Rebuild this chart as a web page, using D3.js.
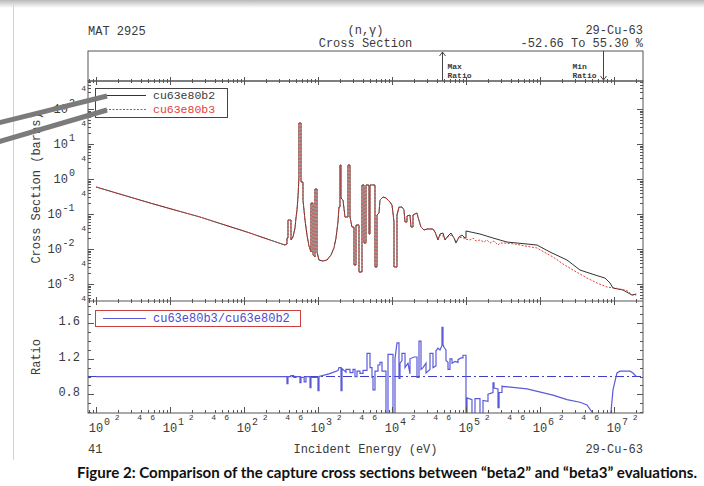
<!DOCTYPE html>
<html>
<head>
<meta charset="utf-8">
<script src="https://cdn.jsdelivr.net/npm/d3@7"></script>
<style>
  html, body { margin: 0; padding: 0; background: #fff; }
  svg { display: block; }
</style>
</head>
<body>
<svg id="chart" width="704" height="486"></svg>
<script>
// ---- Cu-63 (n,gamma) cross sections, eV / barns ----
// Resolved-resonance range: both evaluations coincide at this scale
const resolvedEnergy = [1, 5.37, 25.4, 120.5, 224.6, 358.2, 381.2, 381.2, 393.3, 393.3, 431.7, 431.7, 459.4, 488.9, 504.4, 520.3, 536.7, 553.6, 553.6, 589.3, 589.3, 627.1, 627.1, 667.4, 710.3, 755.7, 804.3, 804.3, 855.9, 855.9, 910.9, 910.9, 969.4, 969.4, 1031.6, 1168, 1323, 1499, 1645, 1751, 1863, 1922, 1983, 1983, 2046, 2046, 2177, 2317, 2544, 2544, 2707, 2707, 2881, 3066, 3066, 3263, 3263, 3582, 3582, 3932, 3932, 4184, 4184, 4453, 4453, 4889, 4889, 5044, 5044, 5894, 5894, 6271, 6271, 6673, 6884, 7557, 8297, 9397, 10000, 10316, 10643, 10643, 11685, 11685, 12433, 13650, 14530, 14990, 15950, 15950, 17510, 18070, 19220, 19220, 21770, 22460, 24660, 27070, 29720, 35820, 38120];
const resolvedSigma = [0.591, 0.206, 0.0821, 0.0286, 0.0181, 0.0130, 0.0139, 0.0206, 0.0206, 0.0674, 0.0674, 0.0181, 0.0220, 0.0398, 0.0769, 0.130, 0.306, 1.14, 39.8, 39.8, 0.821, 0.821, 0.251, 0.0674, 0.0251, 0.0122, 0.00821, 0.206, 0.206, 0.00674, 0.00591, 0.518, 0.518, 0.00821, 0.00485, 0.00454, 0.00485, 0.00674, 0.0107, 0.0206, 0.0591, 0.158, 0.158, 2.51, 2.51, 0.286, 0.251, 0.0821, 0.0821, 2.51, 2.51, 0.0821, 0.0425, 0.0425, 0.00349, 0.00349, 0.0485, 0.0485, 0.00220, 0.00220, 0.674, 0.674, 0.0148, 0.0148, 0.674, 0.674, 0.0268, 0.0268, 0.674, 0.674, 0.00306, 0.00306, 0.0936, 0.107, 0.251, 0.306, 0.286, 0.220, 0.181, 0.107, 0.0591, 0.00306, 0.00306, 0.0936, 0.158, 0.158, 0.130, 0.0591, 0.0591, 0.0877, 0.0936, 0.0425, 0.0425, 0.0936, 0.107, 0.0821, 0.0425, 0.0349, 0.0373, 0.0373, 0.0306];

// Unresolved + fast range, evaluation "beta2"
const b2FastEnergy = [41840, 44530, 48890, 52030, 57130, 62710, 68840, 73270, 80440, 88300, 96940, 100000, 100000, 154600, 231700, 358200, 910900, 1.365e6, 2.317e6, 3.472e6, 5.536e6, 7.557e6, 8.833e6, 9.694e6, 1.323e7, 1.751e7, 2.0e7];
const b2FastSigma = [0.0181, 0.0268, 0.0286, 0.0181, 0.0235, 0.0286, 0.0206, 0.0148, 0.0220, 0.0251, 0.0206, 0.0206, 0.0327, 0.0268, 0.0206, 0.0158, 0.0130, 0.00821, 0.00485, 0.00251, 0.00181, 0.00148, 0.00107, 0.000769, 0.000674, 0.000485, 0.000518];

// Unresolved + fast range, evaluation "beta3"
const b3FastEnergy = [41840, 44530, 48890, 52030, 57130, 62710, 68840, 73270, 80440, 88300, 96940, 113300, 124400, 136500, 154600, 175100, 192200, 211000, 239000, 270700, 288100, 336500, 459400, 627100, 910900, 1.133e6, 1.499e6, 2.046e6, 2.792e6, 3.472e6, 4.316e6, 5.893e6, 8.043e6, 1.098e7, 1.499e7, 1.751e7, 2.0e7];
const b3FastSigma = [0.0193, 0.0251, 0.0235, 0.0193, 0.0220, 0.0251, 0.0206, 0.0169, 0.0206, 0.0220, 0.0193, 0.0181, 0.0206, 0.0169, 0.0181, 0.0158, 0.0181, 0.0148, 0.0169, 0.0130, 0.0148, 0.0148, 0.0139, 0.0122, 0.0107, 0.00821, 0.00591, 0.00373, 0.00251, 0.00193, 0.00148, 0.00107, 0.000821, 0.00075, 0.00065, 0.000485, 0.000485];

// Ratio beta3 / beta2
const ratioEnergy = [1, 381, 381, 393, 393, 430, 430, 470, 470, 504, 504, 571, 571, 589, 589, 650, 650, 688, 688, 780, 780, 804, 804, 1000, 1000, 1032, 1032, 1408, 1863, 1922, 2046, 2046, 2110, 2110, 2390, 2390, 2707, 2707, 2972, 2972, 3162, 3162, 3365, 3365, 3695, 3695, 4057, 4057, 4595, 4595, 5044, 5044, 5367, 5367, 5537, 5537, 5894, 5894, 6470, 6470, 6884, 6884, 7328, 7328, 8297, 8297, 8830, 8830, 10316, 10316, 10980, 10980, 11690, 12430, 12430, 12830, 12830, 13650, 13650, 14990, 14990, 16450, 17510, 17510, 19830, 21770, 21770, 23170, 23170, 24660, 24660, 26240, 28810, 28810, 32630, 32630, 35820, 35820, 39320, 39320, 41840, 44530, 47390, 47390, 48890, 48890, 50440, 53670, 53670, 57130, 57130, 60790, 60790, 64700, 64700, 71030, 77980, 77980, 85590, 91090, 91090, 100000, 100000, 103200, 103200, 120500, 120500, 132300, 132300, 154600, 154600, 169700, 169700, 198300, 198300, 231700, 231700, 239000, 239000, 270700, 270700, 280000, 280000, 306600, 306600, 667300, 1.499e6, 2.317e6, 3.472e6, 4.316e6, 5.044e6, 5.536e6, 7.1e6, 8.833e6, 9.694e6, 1.098e7, 1.205e7, 1.645e7, 1.806e7, 2.0e7];
const ratioValue = [1.0, 1.0, 0.92, 0.92, 1.0, 1.0, 1.01, 1.01, 0.99, 0.99, 1.0, 1.0, 0.93, 0.93, 0.99, 0.99, 0.94, 0.94, 1.0, 1.0, 0.876, 0.876, 0.99, 0.99, 0.84, 0.84, 1.0, 1.03, 1.068, 1.10, 1.10, 0.842, 0.842, 1.09, 1.05, 1.08, 1.08, 1.045, 1.045, 1.08, 1.08, 1.0, 1.0, 1.06, 1.06, 1.035, 1.035, 1.07, 1.07, 1.26, 1.26, 1.10, 1.10, 0.99, 0.99, 0.85, 0.85, 1.06, 1.06, 1.13, 1.13, 1.16, 1.16, 1.06, 1.06, 0.50, 0.50, 1.25, 1.25, 0.50, 0.50, 1.20, 1.38, 1.38, 0.98, 0.98, 1.15, 1.18, 1.26, 1.26, 1.10, 1.15, 1.03, 1.20, 1.22, 1.22, 0.99, 0.99, 1.40, 1.40, 1.08, 1.10, 1.15, 1.04, 1.08, 1.26, 1.26, 1.10, 1.12, 1.29, 1.32, 1.30, 1.35, 1.553, 1.553, 1.36, 1.33, 1.30, 1.18, 1.16, 1.08, 1.08, 1.20, 1.20, 1.15, 1.17, 1.16, 1.19, 1.21, 1.21, 1.24, 1.24, 0.55, 0.55, 0.76, 0.74, 0.50, 0.50, 0.75, 0.75, 0.50, 0.50, 0.73, 0.72, 0.80, 0.82, 0.93, 0.93, 0.87, 0.86, 0.65, 0.65, 0.82, 0.82, 0.89, 0.86, 0.79, 0.74, 0.71, 0.68, 0.60, 0.52, 0.4734, 0.48, 0.85, 1.04, 1.06, 1.06, 1.04, 1.00];

const seriesNames = ["cu63e80b2", "cu63e80b3"];
const ratioName = "cu63e80b3/cu63e80b2";
const material = "MAT 2925";
const reaction = "(n,\u03b3)";
const quantity = "Cross Section";
const nuclide = "29-Cu-63";
const pageNumber = "41";
const xTitle = "Incident Energy (eV)";
const yTitle = "Cross Section (barns)";
const ratioTitle = "Ratio";
const xDecades = [0, 1, 2, 3, 4, 5, 6, 7];
const xMinorLabels = [2, 4, 6];
const yDecades = [-3, -2, -1, 0, 1, 2];
const yMinorLabel = 4;
const ratioTickLabels = [0.8, 1.2, 1.6];
const caption = "Figure 2: Comparison of the capture cross sections between \u201cbeta2\u201d and \u201cbeta3\u201d evaluations.";

// ---- layout ----
const L = 88, R = 643, HEAD_TOP = 51, T0 = 81, T1 = 301, B1 = 413;
const MONO = "'Liberation Mono', 'DejaVu Sans Mono', monospace";
const INK = "#3a3a3a";

const svg = d3.select("#chart");

const x = d3.scaleLog().domain([0.78, 2.466e7]).range([L, R]);
const yXs = d3.scaleLog().domain([3.27e-4, 631]).range([T1, T0]);
const yR = d3.scaleLinear().domain([0.589, 1.851]).range([B1, T1]);

const zip = (ex, ys) => ex.map((e, i) => ({ e, v: ys[i] }));
const b2 = zip(resolvedEnergy.concat(b2FastEnergy), resolvedSigma.concat(b2FastSigma));
const b3 = zip(resolvedEnergy.concat(b3FastEnergy), resolvedSigma.concat(b3FastSigma));
const ratio = zip(ratioEnergy, ratioValue);

// page decoration: shaded top edge and left rule
const defs = svg.append("defs");
const grad = defs.append("linearGradient").attr("id", "topShade").attr("x1", 0).attr("x2", 0).attr("y1", 0).attr("y2", 1);
grad.append("stop").attr("offset", "0%").attr("stop-color", "#b9b9b9");
grad.append("stop").attr("offset", "100%").attr("stop-color", "#ffffff");
svg.append("rect").attr("x", 0).attr("y", 0).attr("width", 704).attr("height", 8).attr("fill", "url(#topShade)");
svg.append("line").attr("x1", 13.5).attr("x2", 13.5).attr("y1", 5).attr("y2", 460)
  .attr("stroke", "#d2d2d2").attr("stroke-width", 1);

// clip regions
defs.append("clipPath").attr("id", "clipTop").append("rect")
  .attr("x", L).attr("y", T0).attr("width", R - L).attr("height", T1 - T0);
defs.append("clipPath").attr("id", "clipBot").append("rect")
  .attr("x", L).attr("y", T1).attr("width", R - L).attr("height", B1 - T1);

// ---- header ----
const txt = (s, px, py, opts = {}) => svg.append("text")
  .attr("x", px).attr("y", py).text(s)
  .attr("font-family", opts.family || MONO)
  .attr("font-size", opts.size || 12)
  .attr("font-weight", opts.weight || "normal")
  .attr("fill", opts.fill || INK)
  .attr("text-anchor", opts.anchor || "start");

// "10" with a raised exponent, drawn as one text element
const pow10 = (d, px, py, expDx) => {
  const t = svg.append("text").attr("x", px).attr("y", py)
    .attr("font-family", MONO).attr("font-size", 12).attr("fill", INK);
  t.append("tspan").text("10");
  t.append("tspan").attr("dx", expDx).attr("dy", -7)
    .attr("font-size", 10).text(String(d));
  return t;
};

const rMin = d3.min(ratioValue), rMax = d3.max(ratioValue);
const pct = v => ((v - 1) * 100).toFixed(2);
txt(material, L, 35);
txt(reaction, (L + R) / 2, 34, { anchor: "middle" });
txt(quantity, (L + R) / 2, 47, { anchor: "middle" });
txt(nuclide, R, 34, { anchor: "end" });
txt(`${pct(rMin)} To ${pct(rMax)} %`, R, 47, { anchor: "end" });

// header box
svg.append("rect").attr("x", L).attr("y", HEAD_TOP).attr("width", R - L).attr("height", T0 - HEAD_TOP)
  .attr("fill", "none").attr("stroke", "#555").attr("stroke-width", 1);

// Max / Min ratio markers
const eMax = ratioEnergy[ratioValue.indexOf(rMax)];
const eMin = ratioEnergy[ratioValue.indexOf(rMin)];
const xMax = Math.round(x(eMax)) + 0.5, xMin = Math.round(x(eMin)) + 0.5;
const mark = svg.append("g").attr("stroke", "#444").attr("fill", "none").attr("stroke-width", 1);
mark.append("line").attr("x1", xMax).attr("x2", xMax).attr("y1", T0).attr("y2", HEAD_TOP + 1);
mark.append("path").attr("d", `M${xMax - 3},${HEAD_TOP + 5}L${xMax},${HEAD_TOP + 1}L${xMax + 3},${HEAD_TOP + 5}`);
mark.append("line").attr("x1", xMin).attr("x2", xMin).attr("y1", HEAD_TOP).attr("y2", T0 - 1);
mark.append("path").attr("d", `M${xMin - 3},${T0 - 5}L${xMin},${T0 - 1}L${xMin + 3},${T0 - 5}`);
txt("Max", xMax + 5, 69, { size: 8, weight: "bold" });
txt("Ratio", xMax + 5, 78, { size: 8, weight: "bold" });
txt("Min", xMin - 31, 69, { size: 8, weight: "bold" });
txt("Ratio", xMin - 31, 78, { size: 8, weight: "bold" });

// ---- data ----
const lineXs = d3.line().x(d => x(d.e)).y(d => yXs(d.v));
const lineR = d3.line().x(d => x(d.e)).y(d => yR(d.v));

const xsPanel = svg.append("g").attr("clip-path", "url(#clipTop)");
xsPanel.append("path").datum(b2).attr("d", lineXs)
  .attr("fill", "none").attr("stroke", "#333").attr("stroke-width", 1);
xsPanel.append("path").datum(b3).attr("d", lineXs)
  .attr("fill", "none").attr("stroke", "#e3403a").attr("stroke-width", 1)
  .attr("stroke-dasharray", "2,1.5");

const ratioPanel = svg.append("g").attr("clip-path", "url(#clipBot)");
ratioPanel.append("line").attr("x1", L).attr("x2", R).attr("y1", yR(1)).attr("y2", yR(1))
  .attr("stroke", "#3b3bc4").attr("stroke-width", 1).attr("stroke-dasharray", "9,3,2,3");
ratioPanel.append("path").datum(ratio).attr("d", lineR)
  .attr("fill", "none").attr("stroke", "#5a5ad9").attr("stroke-width", 1.2);

// ---- frames ----
svg.append("rect").attr("x", L).attr("y", T0).attr("width", R - L).attr("height", B1 - T0)
  .attr("fill", "none").attr("stroke", "#555").attr("stroke-width", 1);
svg.append("line").attr("x1", L).attr("x2", R).attr("y1", T1).attr("y2", T1)
  .attr("stroke", "#555").attr("stroke-width", 1);

// ---- ticks ----
const ticks = svg.append("g").attr("stroke", "#555").attr("stroke-width", 1);
const xTickVals = [];
for (let d = -1; d <= 7; d++) for (let m = 1; m <= 9; m++) {
  const v = m * Math.pow(10, d);
  if (v >= x.domain()[0] && v <= x.domain()[1]) xTickVals.push({ v, major: m === 1, m, d });
}
xTickVals.forEach(t => {
  const px = Math.round(x(t.v)) + 0.5;
  const a = t.major ? 4 : 2;
  [T0, T1].forEach(yy => ticks.append("line").attr("x1", px).attr("x2", px).attr("y1", yy - a).attr("y2", yy + a));
  ticks.append("line").attr("x1", px).attr("x2", px).attr("y1", B1).attr("y2", B1 - (t.major ? 6 : 3));
});

const yTickVals = [];
for (let d = -4; d <= 2; d++) for (let m = 1; m <= 9; m++) {
  const v = m * Math.pow(10, d);
  if (v >= yXs.domain()[0] && v <= yXs.domain()[1]) yTickVals.push({ v, major: m === 1, m, d });
}
yTickVals.forEach(t => {
  const py = Math.round(yXs(t.v)) + 0.5;
  const len = t.major ? 6 : 3;
  ticks.append("line").attr("x1", L).attr("x2", L + len).attr("y1", py).attr("y2", py);
  ticks.append("line").attr("x1", R).attr("x2", R - len).attr("y1", py).attr("y2", py);
});

d3.range(6, 19).map(i => i / 10).forEach(v => {
  if (v < yR.domain()[0] || v > yR.domain()[1]) return;
  const py = Math.round(yR(v)) + 0.5;
  const major = ratioTickLabels.some(l => Math.abs(l - v) < 1e-9);
  const len = major ? 6 : 3;
  ticks.append("line").attr("x1", L).attr("x2", L + len).attr("y1", py).attr("y2", py);
  ticks.append("line").attr("x1", R).attr("x2", R - len).attr("y1", py).attr("y2", py);
});

// ---- tick labels ----
xDecades.forEach(d => {
  pow10(d, x(Math.pow(10, d)) - 7.2, 432, 0.8);
});
xTickVals.filter(t => xMinorLabels.includes(t.m)).forEach(t => {
  txt(String(t.m), x(t.v) - 1, 420, { size: 8, anchor: "middle" });
});

yDecades.forEach(d => {
  // negative exponents are wider, so the mantissa starts further left
  pow10(d, d < 0 ? 47.6 : 53.6, yXs(Math.pow(10, d)) + 4, d < 0 ? 0.5 : 1);
});
yTickVals.filter(t => t.m === yMinorLabel).forEach(t => {
  txt(String(yMinorLabel), 86, yXs(t.v) + 3, { size: 8, anchor: "end" });
});

ratioTickLabels.forEach(v => {
  txt(v.toFixed(1), 80, yR(v) + 2, { anchor: "end" });
});

// ---- axis titles and footer ----
svg.append("text").attr("transform", "translate(40,188) rotate(-90)")
  .attr("text-anchor", "middle").attr("font-family", MONO).attr("font-size", 12)
  .attr("fill", INK).text(yTitle);
svg.append("text").attr("transform", "translate(40,357) rotate(-90)")
  .attr("text-anchor", "middle").attr("font-family", MONO).attr("font-size", 12)
  .attr("fill", INK).text(ratioTitle);
txt(pageNumber, L, 453);
txt(xTitle, (L + R) / 2, 453, { anchor: "middle" });
txt(nuclide, R, 453, { anchor: "end" });

// ---- legends ----
svg.append("rect").attr("x", 95.5).attr("y", 88.5).attr("width", 132).attr("height", 29)
  .attr("fill", "#fff").attr("stroke", "#444").attr("stroke-width", 1);
svg.append("line").attr("x1", 102).attr("x2", 146).attr("y1", 95.5).attr("y2", 95.5)
  .attr("stroke", "#333").attr("stroke-width", 1);
svg.append("line").attr("x1", 102).attr("x2", 146).attr("y1", 109.5).attr("y2", 109.5)
  .attr("stroke", "#e3403a").attr("stroke-width", 1).attr("stroke-dasharray", "2,1.5");
txt(seriesNames[0], 153, 99, { size: 11.5 });
txt(seriesNames[1], 153, 113, { size: 11.5, fill: "#e3403a" });

svg.append("rect").attr("x", 95.5).attr("y", 310.5).attr("width", 205).attr("height", 16)
  .attr("fill", "#fff").attr("stroke", "#c84040").attr("stroke-width", 1);
svg.append("line").attr("x1", 103).attr("x2", 146).attr("y1", 318.5).attr("y2", 318.5)
  .attr("stroke", "#5a5ad9").attr("stroke-width", 1.2);
txt(ratioName, 153, 322, { fill: "#4a4ad0" });

// ---- caption ----
svg.append("text").attr("x", 77).attr("y", 478).text(caption)
  .attr("font-family", "Lato, 'Open Sans', sans-serif").attr("font-weight", "bold")
  .attr("font-size", 14.5).attr("fill", "#111")
  .attr("textLength", 620).attr("lengthAdjust", "spacingAndGlyphs");

// ---- pointer strokes over the legend ----
const ptr = svg.append("g").attr("stroke", "#7b7b7b").attr("stroke-width", 5);
ptr.append("line").attr("x1", -2).attr("y1", 123).attr("x2", 107).attr("y2", 96);
ptr.append("line").attr("x1", -2).attr("y1", 142).attr("x2", 107).attr("y2", 110);
</script>
</body>
</html>
